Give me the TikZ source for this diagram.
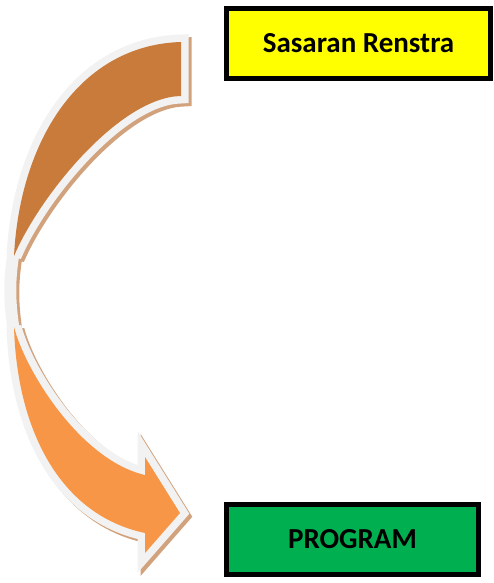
\documentclass[tikz,border=0pt]{standalone}
\usepackage{fontspec}
\setmainfont{Carlito}
\definecolor{bandtop}{HTML}{C87B3B}
\definecolor{bandbottom}{HTML}{F79646}
\definecolor{bandedge}{HTML}{F2F2F2}
\definecolor{bandshadow}{HTML}{D2A27C}
\definecolor{boxyellow}{HTML}{FFFF00}
\definecolor{boxgreen}{HTML}{00B050}
\newcommand{\upperband}{(181,42) .. controls (80,45) and (20,140) .. (14,256) .. controls (40,195) and (120,97) .. (181,96) -- cycle}
\newcommand{\lowerband}{(14,327) .. controls (25,370) and (80,460) .. (145,475) -- (145,457) -- (180,513) -- (145,553) -- (145,533) .. controls (60,515) and (17,430) .. (14,327) -- cycle}
\newcommand{\bandjoin}{(14,250) .. controls (9,280) and (9,300) .. (14,332)}

\begin{document}
\begin{tikzpicture}[x=1pt, y=-1pt, line join=miter, miter limit=4,
	box/.style={draw=black, line width=5pt, inner sep=0pt, minimum height=70pt, font=\fontsize{29}{34}\selectfont\bfseries}]
	\useasboundingbox (0,0) rectangle (493,583);

	\node at (358.5,43.5) [box, fill=boxyellow, minimum width=264pt] (sasaran) {Sasaran Renstra};
	\node at (352.5,539) [box, fill=boxgreen, minimum width=252pt] (program) {PROGRAM};

	\begin{scope}[shift={(3,3)}]
		\filldraw [fill=bandshadow, draw=bandshadow, line width=15pt] \upperband;
		\filldraw [fill=bandshadow, draw=bandshadow, line width=15pt] \lowerband;
		\draw [bandshadow, line width=12pt] \bandjoin;
	\end{scope}

	\draw [bandedge, line width=15pt] \upperband;
	\draw [bandedge, line width=15pt] \lowerband;
	\draw [bandedge, line width=12pt] \bandjoin;
	\fill [bandtop] \upperband;
	\fill [bandbottom] \lowerband;
\end{tikzpicture}
\end{document}
